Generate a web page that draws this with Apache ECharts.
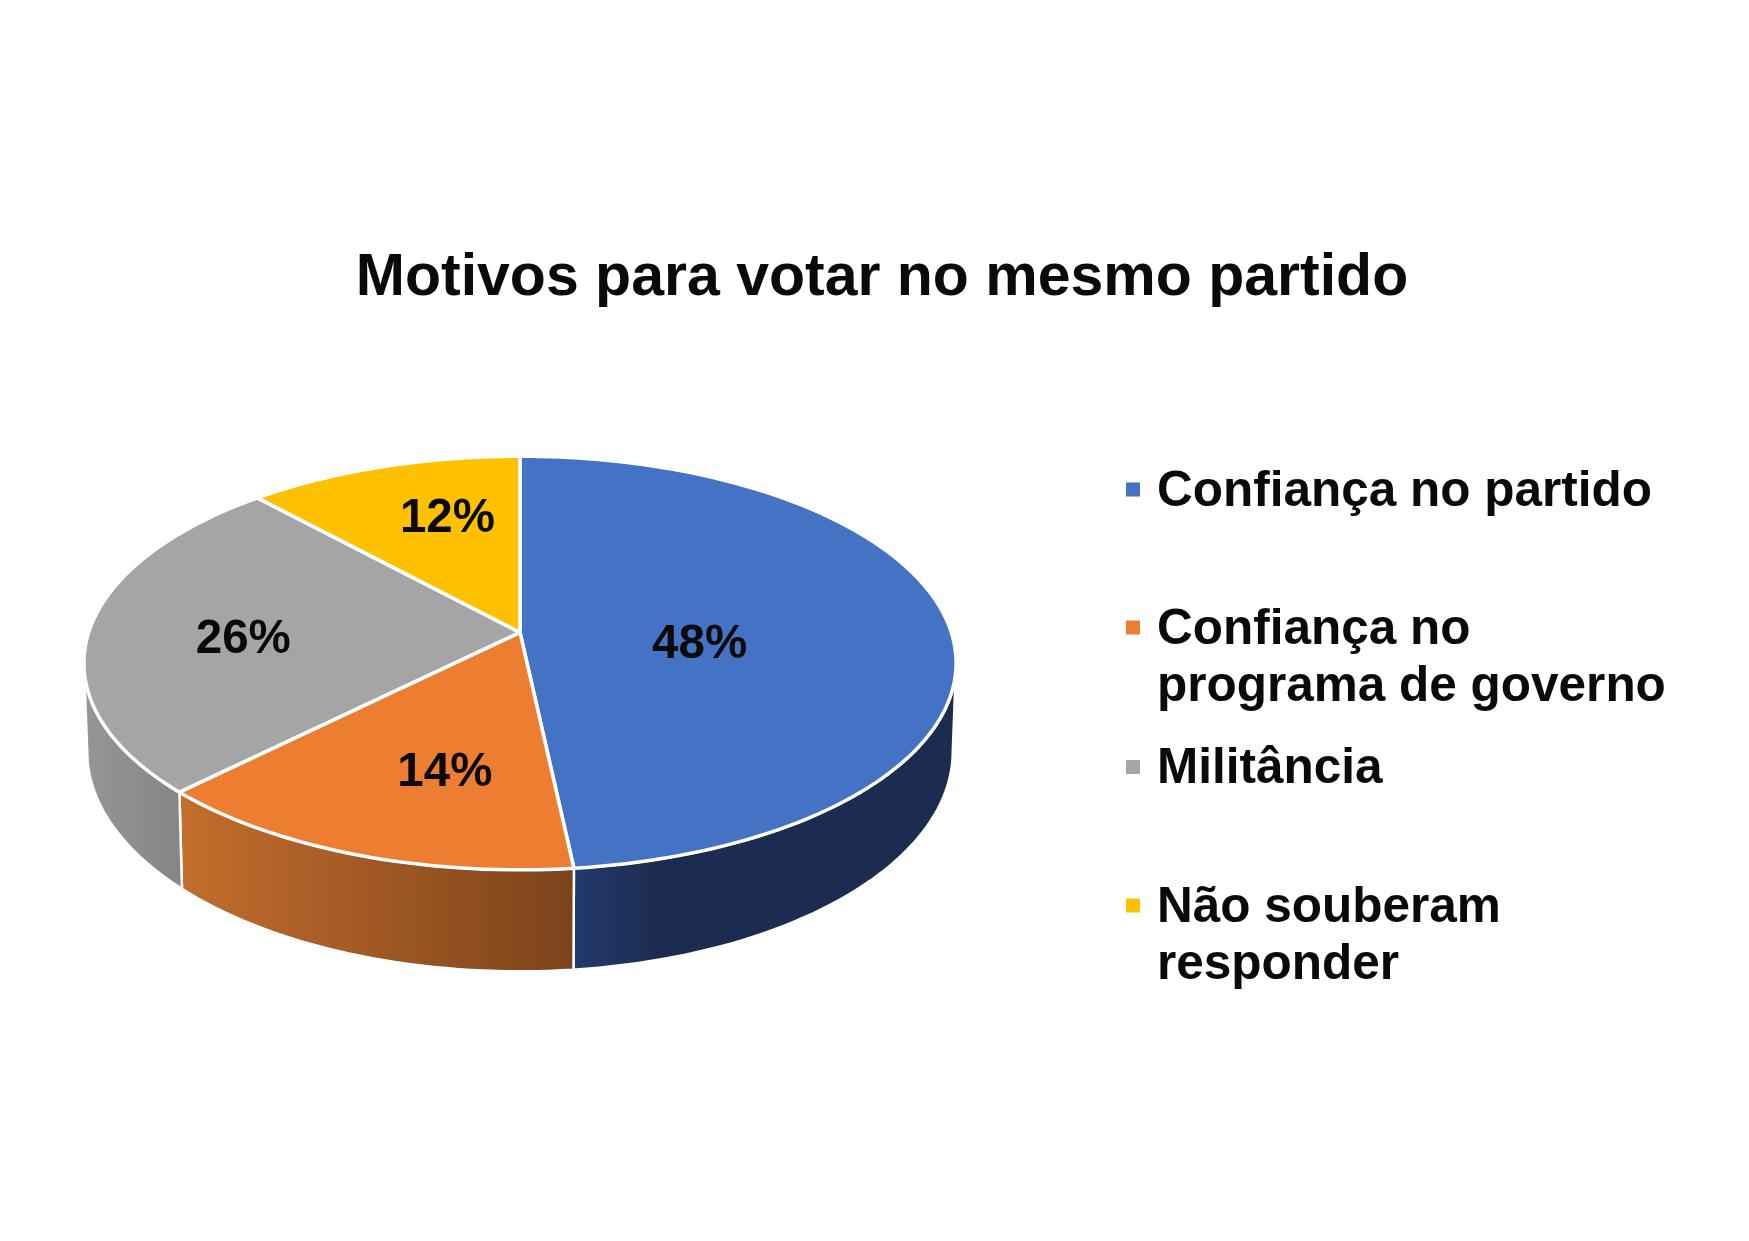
<!DOCTYPE html>
<html>
<head>
<meta charset="utf-8">
<style>html,body{margin:0;padding:0;background:#fff}#c{width:1749px;height:1241px}</style>
<script src="https://cdn.jsdelivr.net/npm/echarts@6/dist/echarts.min.js"></script>
</head>
<body>
<div id="c"></div>
<script>
// Data
const titleText = 'Motivos para votar no mesmo partido';
const categories = ['Confiança no partido', 'Confiança no programa de governo', 'Militância', 'Não souberam responder'];
const legendLabels = ['Confiança no partido', 'Confiança no\nprograma de governo', 'Militância', 'Não souberam\nresponder'];
const values = [48.3, 14.2, 25.7, 11.8];

// Style
const topColors = ['#4472c4', '#ed7d31', '#a5a5a5', '#ffc000'];
const wallStops = [
  [[0, '#233a6e'], [0.22, '#1c2c50'], [1, '#1c2c50']],
  [[0, '#c46e2d'], [1, '#7b431b']],
  [[0, '#969696'], [1, '#858585']],
  [[0, '#997300'], [1, '#997300']]
];
const labelRadius = [0.416, 0.635, 0.64, 0.658];
const labelTurn = [9, -5, -3, 5];
const labelDrop = 3.5;
const legendTops = [463.5, 601.5, 741, 879.5];
const font = '"Liberation Sans", Arial, sans-serif';

// Perspective view of the disc: top face and bottom rim
const P = 0.148;
const topFace = { x0: 520, y0: 632.4, a: 431.3, k: 202.3 };
const rimFace = { x0: 520, y0: 719, a: 428, k: 215 };
function project(f, r, deg) {
  const t = deg * Math.PI / 180, u = r * Math.sin(t), v = -r * Math.cos(t), d = 1 - P * v;
  return [f.x0 + f.a * u / d, f.y0 + f.k * v / d];
}
function arc(f, from, to) {
  const pts = [], n = Math.max(2, Math.ceil(Math.abs(to - from) / 1.5));
  for (let i = 0; i <= n; i++) pts.push(project(f, 1, from + (to - from) * i / n));
  return pts;
}
const total = values.reduce((s, v) => s + v, 0);
const visFrom = Math.acos(-P) * 180 / Math.PI, visTo = 360 - visFrom;

function renderer(idx) {
  let before = 0;
  for (let i = 0; i < idx; i++) before += values[i];
  const start = before / total * 360, end = (before + values[idx]) / total * 360;
  return function () {
    const children = [];
    const wa = Math.max(start, visFrom), wb = Math.min(end, visTo);
    if (wb > wa) {
      children.push({
        type: 'polygon',
        shape: { points: arc(topFace, wa, wb).concat(arc(rimFace, wb, wa)) },
        style: {
          fill: new echarts.graphic.LinearGradient(0, 0, 1, 0,
            wallStops[idx].map(s => ({ offset: s[0], color: s[1] }))),
          stroke: '#fff', lineWidth: 2.5, lineJoin: 'round'
        }
      });
    }
    children.push({
      type: 'polygon',
      shape: { points: [[topFace.x0, topFace.y0]].concat(arc(topFace, start, end)) },
      style: { fill: topColors[idx], stroke: '#fff', lineWidth: 3.5, lineJoin: 'round' }
    });
    const lp = project(topFace, labelRadius[idx], (start + end) / 2 + labelTurn[idx]);
    children.push({
      type: 'text', x: lp[0], y: lp[1] + labelDrop,
      style: {
        text: Math.round(values[idx]) + '%', fill: '#0a0a0a',
        font: 'bold 47.5px ' + font, align: 'center', verticalAlign: 'middle'
      }
    });
    return { type: 'group', children };
  };
}

const chart = echarts.init(document.getElementById('c'), null, { renderer: 'canvas' });
chart.setOption({
  animation: false,
  backgroundColor: '#fff',
  title: {
    text: titleText, left: 882, top: 279, textAlign: 'center', textVerticalAlign: 'middle', padding: 0,
    textStyle: { color: '#0a0a0a', fontFamily: font, fontWeight: 'bold', fontSize: 59 }
  },
  legend: categories.map((c, i) => {
    const two = legendLabels[i].indexOf('\n') >= 0;
    return {
      data: [c], left: 1126, top: legendTops[i], padding: 0, orient: 'vertical',
      selectedMode: false, itemWidth: 14, itemHeight: two ? 114 : 57,
      icon: two ? 'path://M0 0L0.001 0ZM0 19H14V33H0ZM14 114L13.999 114Z'
                : 'path://M0 0L0.001 0ZM0 19H14V33H0ZM14 57L13.999 57Z',
      formatter: () => legendLabels[i],
      textStyle: { color: '#0a0a0a', fontFamily: font, fontWeight: 'bold', fontSize: 49.5, lineHeight: 57, padding: [0, 0, 0, 12] }
    };
  }),
  series: categories.map((c, i) => ({
    type: 'custom', name: c, coordinateSystem: 'none', silent: true,
    itemStyle: { color: topColors[i] },
    renderItem: renderer(i),
    data: [[values[i]]]
  }))
});
</script>
</body>
</html>
